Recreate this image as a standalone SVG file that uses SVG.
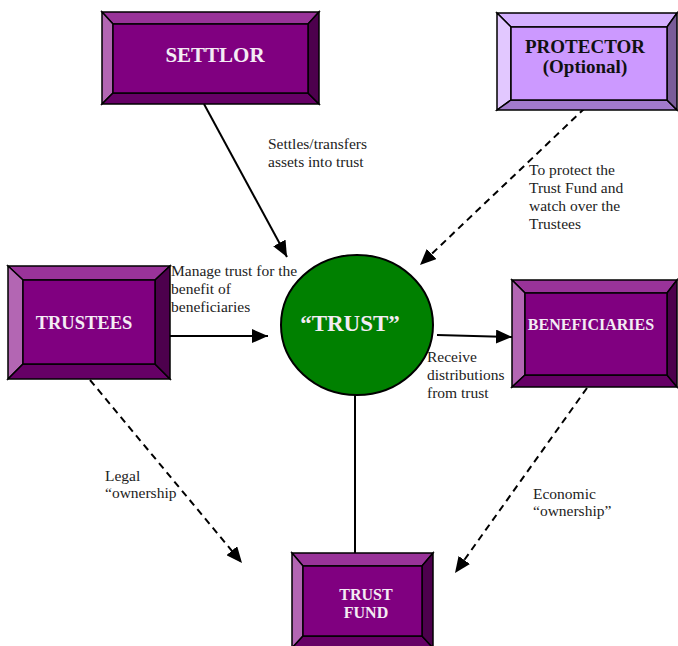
<svg xmlns="http://www.w3.org/2000/svg" width="678" height="646" viewBox="0 0 678 646">
<defs>
<marker id="ah" markerUnits="userSpaceOnUse" markerWidth="16" markerHeight="14" refX="16" refY="7" orient="auto">
<path d="M0,0 L16,7 L0,14 z" fill="#000"/>
</marker>
<style>
.e{stroke:#000;stroke-width:1.5;stroke-linejoin:miter}
.pt{fill:#993399}.pl{fill:#B366B3}.pb{fill:#660066}.pr{fill:#4D004D}.pf{fill:#800080}
.lt{fill:#D4B0FF}.ll{fill:#E2C8FF}.lb{fill:#A27ACC}.lr{fill:#7A5C99}.lf{fill:#CC99FF}
text{font-family:'Liberation Serif','Times New Roman',serif}
.nt{font-weight:bold;fill:#F4ECF4;text-anchor:middle}
.ntd{font-weight:bold;fill:#111;text-anchor:middle}
.lbl{font-size:15.5px;fill:#222}
.c{stroke:#000;stroke-width:2;fill:none}
.d{stroke-dasharray:7 5}
</style>
</defs>
<rect width="678" height="646" fill="#fff"/>

<g id="connectors">
<line class="c" x1="204" y1="104" x2="287" y2="257" marker-end="url(#ah)"/>
<line class="c d" x1="585" y1="108" x2="420" y2="265" marker-end="url(#ah)"/>
<line class="c" x1="170" y1="336" x2="268" y2="336" marker-end="url(#ah)"/>
<line class="c" x1="437" y1="335" x2="512" y2="337" marker-end="url(#ah)"/>
<line class="c" x1="355" y1="395" x2="355" y2="553"/>
<line class="c d" x1="90" y1="380" x2="242" y2="563" marker-end="url(#ah)"/>
<line class="c d" x1="587" y1="388" x2="455" y2="573" marker-end="url(#ah)"/>
</g>

<g id="settlor">
<polygon class="e pt" points="102,12 319,12 308,24 113,24"/>
<polygon class="e pl" points="102,12 113,24 113,93 102,104"/>
<polygon class="e pb" points="102,104 113,93 308,93 319,104"/>
<polygon class="e pr" points="319,12 319,104 308,93 308,24"/>
<rect class="e pf" x="113" y="24" width="195" height="69"/>
<text class="nt" x="215" y="62" font-size="21">SETTLOR</text>
</g>

<g id="protector">
<polygon class="e lt" points="497,13 677,13 667,27 511,27"/>
<polygon class="e ll" points="497,13 511,27 511,100 497,110"/>
<polygon class="e lb" points="497,110 511,100 667,100 677,110"/>
<polygon class="e lr" points="677,13 677,110 667,100 667,27"/>
<rect class="e lf" x="511" y="27" width="156" height="73"/>
<text class="ntd" x="585" y="53" font-size="19">PROTECTOR</text>
<text class="ntd" x="585" y="73" font-size="19">(Optional)</text>
</g>

<g id="trustees">
<polygon class="e pt" points="8,266 170,266 155,280 23,280"/>
<polygon class="e pl" points="8,266 23,280 23,364 8,379"/>
<polygon class="e pb" points="8,379 23,364 155,364 170,379"/>
<polygon class="e pr" points="170,266 170,379 155,364 155,280"/>
<rect class="e pf" x="23" y="280" width="132" height="84"/>
<text class="nt" x="84" y="329" font-size="18.5">TRUSTEES</text>
</g>

<g id="beneficiaries">
<polygon class="e pt" points="512,280 677,280 667,293 525,293"/>
<polygon class="e pl" points="512,280 525,293 525,375 512,387"/>
<polygon class="e pb" points="512,387 525,375 667,375 677,387"/>
<polygon class="e pr" points="677,280 677,387 667,375 667,293"/>
<rect class="e pf" x="525" y="293" width="142" height="82"/>
<text class="nt" x="591" y="330" font-size="16">BENEFICIARIES</text>
</g>

<g id="trust">
<ellipse cx="357" cy="325" rx="76" ry="70" fill="#008000" stroke="#000" stroke-width="2"/>
<text class="nt" x="350" y="331" font-size="23">“TRUST”</text>
</g>

<g id="trust-fund">
<polygon class="e pt" points="292,553 433,553 422,566 303,566"/>
<polygon class="e pl" points="292,553 303,566 303,636 292,648"/>
<polygon class="e pb" points="292,648 303,636 422,636 433,648"/>
<polygon class="e pr" points="433,553 433,648 422,636 422,566"/>
<rect class="e pf" x="303" y="566" width="119" height="70"/>
<text class="nt" x="366" y="600" font-size="16">TRUST</text>
<text class="nt" x="366" y="618" font-size="16">FUND</text>
</g>

<g id="labels">
<text class="lbl" x="268" y="149">Settles/transfers</text>
<text class="lbl" x="268" y="167">assets into trust</text>
<text class="lbl" x="529" y="175">To protect the</text>
<text class="lbl" x="529" y="193">Trust Fund and</text>
<text class="lbl" x="529" y="211">watch over the</text>
<text class="lbl" x="529" y="229">Trustees</text>
<text class="lbl" x="171" y="276">Manage trust for the</text>
<text class="lbl" x="171" y="294">benefit of</text>
<text class="lbl" x="171" y="312">beneficiaries</text>
<text class="lbl" x="427" y="362">Receive</text>
<text class="lbl" x="427" y="380">distributions</text>
<text class="lbl" x="427" y="398">from trust</text>
<text class="lbl" x="105" y="481">Legal</text>
<text class="lbl" x="105" y="498">“ownership</text>
<text class="lbl" x="533" y="499">Economic</text>
<text class="lbl" x="533" y="516">“ownership”</text>
</g>
</svg>
